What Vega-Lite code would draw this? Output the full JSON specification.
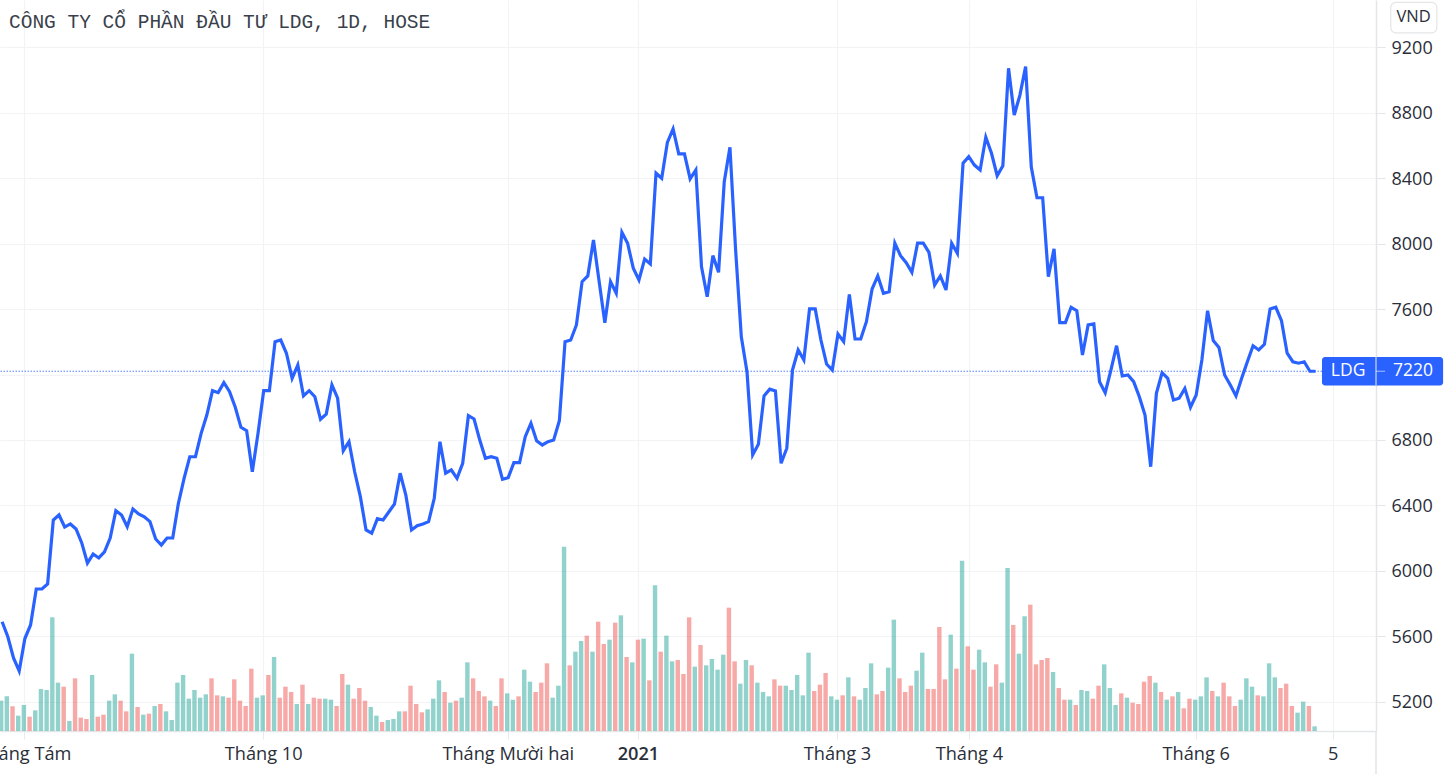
{"$schema":"https://vega.github.io/schema/vega-lite/v6.json","description":"LDG daily close and volume","width":1376,"height":731,"autosize":{"type":"none"},"padding":{"left":0,"top":0,"right":72,"bottom":43},"background":"#ffffff","title":{"text":"CÔNG TY CỔ PHẦN ĐẦU TƯ LDG, 1D, HOSE","anchor":"start","frame":"group","offset":-32,"dx":9,"font":"Liberation Mono","fontSize":19.5,"fontWeight":"normal","color":"#3a3f4c"},"config":{"view":{"stroke":null},"font":"Open Sans"},"datasets":{"sessions":[
{"i":0,"close":5688,"volume":91000,"dir":"up"},{"i":1,"close":5596,"volume":104000,"dir":"up"},{"i":2,"close":5466,"volume":74000,"dir":"down"},{"i":3,"close":5387,"volume":46000,"dir":"up"},{"i":4,"close":5585,"volume":78000,"dir":"up"},{"i":5,"close":5668,"volume":43000,"dir":"down"},{"i":6,"close":5888,"volume":62000,"dir":"up"},{"i":7,"close":5888,"volume":126000,"dir":"up"},{"i":8,"close":5919,"volume":123000,"dir":"up"},{"i":9,"close":6310,"volume":341000,"dir":"up"},
{"i":10,"close":6341,"volume":145000,"dir":"up"},{"i":11,"close":6267,"volume":133000,"dir":"down"},{"i":12,"close":6286,"volume":30000,"dir":"up"},{"i":13,"close":6255,"volume":158000,"dir":"down"},{"i":14,"close":6170,"volume":40000,"dir":"down"},{"i":15,"close":6047,"volume":36000,"dir":"down"},{"i":16,"close":6102,"volume":168000,"dir":"up"},{"i":17,"close":6078,"volume":43000,"dir":"down"},{"i":18,"close":6115,"volume":49000,"dir":"down"},{"i":19,"close":6200,"volume":91000,"dir":"up"},
{"i":20,"close":6367,"volume":110000,"dir":"up"},{"i":21,"close":6341,"volume":91000,"dir":"down"},{"i":22,"close":6269,"volume":59000,"dir":"down"},{"i":23,"close":6377,"volume":232000,"dir":"up"},{"i":24,"close":6347,"volume":72000,"dir":"down"},{"i":25,"close":6330,"volume":49000,"dir":"up"},{"i":26,"close":6300,"volume":52000,"dir":"down"},{"i":27,"close":6194,"volume":75000,"dir":"up"},{"i":28,"close":6157,"volume":81000,"dir":"down"},{"i":29,"close":6200,"volume":59000,"dir":"up"},
{"i":30,"close":6200,"volume":33000,"dir":"up"},{"i":31,"close":6412,"volume":145000,"dir":"up"},{"i":32,"close":6565,"volume":168000,"dir":"up"},{"i":33,"close":6697,"volume":97000,"dir":"up"},{"i":34,"close":6697,"volume":123000,"dir":"up"},{"i":35,"close":6840,"volume":100000,"dir":"up"},{"i":36,"close":6952,"volume":110000,"dir":"up"},{"i":37,"close":7101,"volume":158000,"dir":"down"},{"i":38,"close":7089,"volume":107000,"dir":"down"},{"i":39,"close":7150,"volume":104000,"dir":"up"},
{"i":40,"close":7095,"volume":100000,"dir":"down"},{"i":41,"close":7000,"volume":155000,"dir":"down"},{"i":42,"close":6877,"volume":91000,"dir":"down"},{"i":43,"close":6856,"volume":75000,"dir":"down"},{"i":44,"close":6605,"volume":187000,"dir":"down"},{"i":45,"close":6840,"volume":100000,"dir":"up"},{"i":46,"close":7101,"volume":107000,"dir":"up"},{"i":47,"close":7101,"volume":168000,"dir":"down"},{"i":48,"close":7401,"volume":222000,"dir":"up"},{"i":49,"close":7411,"volume":100000,"dir":"down"},
{"i":50,"close":7330,"volume":133000,"dir":"down"},{"i":51,"close":7177,"volume":117000,"dir":"down"},{"i":52,"close":7258,"volume":81000,"dir":"up"},{"i":53,"close":7069,"volume":139000,"dir":"down"},{"i":54,"close":7101,"volume":81000,"dir":"up"},{"i":55,"close":7064,"volume":100000,"dir":"down"},{"i":56,"close":6926,"volume":97000,"dir":"down"},{"i":57,"close":6958,"volume":97000,"dir":"up"},{"i":58,"close":7136,"volume":94000,"dir":"up"},{"i":59,"close":7055,"volume":75000,"dir":"down"},
{"i":60,"close":6734,"volume":171000,"dir":"down"},{"i":61,"close":6789,"volume":139000,"dir":"up"},{"i":62,"close":6605,"volume":97000,"dir":"down"},{"i":63,"close":6453,"volume":129000,"dir":"down"},{"i":64,"close":6249,"volume":91000,"dir":"down"},{"i":65,"close":6229,"volume":72000,"dir":"up"},{"i":66,"close":6318,"volume":46000,"dir":"up"},{"i":67,"close":6310,"volume":27000,"dir":"down"},{"i":68,"close":6359,"volume":33000,"dir":"up"},{"i":69,"close":6408,"volume":36000,"dir":"up"},
{"i":70,"close":6596,"volume":59000,"dir":"up"},{"i":71,"close":6463,"volume":59000,"dir":"down"},{"i":72,"close":6249,"volume":136000,"dir":"down"},{"i":73,"close":6275,"volume":81000,"dir":"down"},{"i":74,"close":6286,"volume":56000,"dir":"down"},{"i":75,"close":6300,"volume":65000,"dir":"up"},{"i":76,"close":6443,"volume":97000,"dir":"up"},{"i":77,"close":6789,"volume":152000,"dir":"up"},{"i":78,"close":6596,"volume":117000,"dir":"down"},{"i":79,"close":6616,"volume":85000,"dir":"up"},
{"i":80,"close":6565,"volume":91000,"dir":"down"},{"i":81,"close":6657,"volume":100000,"dir":"up"},{"i":82,"close":6948,"volume":206000,"dir":"up"},{"i":83,"close":6928,"volume":158000,"dir":"down"},{"i":84,"close":6799,"volume":120000,"dir":"down"},{"i":85,"close":6688,"volume":104000,"dir":"down"},{"i":86,"close":6697,"volume":91000,"dir":"up"},{"i":87,"close":6688,"volume":75000,"dir":"down"},{"i":88,"close":6559,"volume":158000,"dir":"down"},{"i":89,"close":6569,"volume":113000,"dir":"up"},
{"i":90,"close":6661,"volume":94000,"dir":"up"},{"i":91,"close":6661,"volume":104000,"dir":"down"},{"i":92,"close":6820,"volume":184000,"dir":"up"},{"i":93,"close":6902,"volume":148000,"dir":"up"},{"i":94,"close":6795,"volume":117000,"dir":"down"},{"i":95,"close":6769,"volume":145000,"dir":"down"},{"i":96,"close":6789,"volume":203000,"dir":"down"},{"i":97,"close":6799,"volume":100000,"dir":"up"},{"i":98,"close":6917,"volume":136000,"dir":"up"},{"i":99,"close":7401,"volume":553000,"dir":"up"},
{"i":100,"close":7411,"volume":197000,"dir":"down"},{"i":101,"close":7503,"volume":238000,"dir":"up"},{"i":102,"close":7768,"volume":270000,"dir":"up"},{"i":103,"close":7803,"volume":286000,"dir":"down"},{"i":104,"close":8023,"volume":238000,"dir":"up"},{"i":105,"close":7768,"volume":328000,"dir":"down"},{"i":106,"close":7517,"volume":261000,"dir":"down"},{"i":107,"close":7768,"volume":274000,"dir":"up"},{"i":108,"close":7697,"volume":325000,"dir":"down"},{"i":109,"close":8070,"volume":347000,"dir":"up"},
{"i":110,"close":8003,"volume":222000,"dir":"down"},{"i":111,"close":7850,"volume":206000,"dir":"up"},{"i":112,"close":7778,"volume":274000,"dir":"down"},{"i":113,"close":7906,"volume":277000,"dir":"up"},{"i":114,"close":7876,"volume":152000,"dir":"down"},{"i":115,"close":8431,"volume":437000,"dir":"up"},{"i":116,"close":8400,"volume":238000,"dir":"down"},{"i":117,"close":8620,"volume":286000,"dir":"up"},{"i":118,"close":8702,"volume":209000,"dir":"up"},{"i":119,"close":8549,"volume":213000,"dir":"down"},
{"i":120,"close":8549,"volume":171000,"dir":"down"},{"i":121,"close":8396,"volume":341000,"dir":"down"},{"i":122,"close":8451,"volume":193000,"dir":"up"},{"i":123,"close":7859,"volume":258000,"dir":"down"},{"i":124,"close":7676,"volume":197000,"dir":"up"},{"i":125,"close":7927,"volume":216000,"dir":"up"},{"i":126,"close":7825,"volume":184000,"dir":"up"},{"i":127,"close":8379,"volume":229000,"dir":"up"},{"i":128,"close":8590,"volume":370000,"dir":"down"},{"i":129,"close":7961,"volume":209000,"dir":"down"},
{"i":130,"close":7431,"volume":142000,"dir":"up"},{"i":131,"close":7217,"volume":213000,"dir":"up"},{"i":132,"close":6708,"volume":197000,"dir":"down"},{"i":133,"close":6773,"volume":145000,"dir":"up"},{"i":134,"close":7069,"volume":117000,"dir":"up"},{"i":135,"close":7110,"volume":104000,"dir":"up"},{"i":136,"close":7099,"volume":155000,"dir":"down"},{"i":137,"close":6657,"volume":136000,"dir":"down"},{"i":138,"close":6749,"volume":136000,"dir":"up"},{"i":139,"close":7227,"volume":123000,"dir":"up"},
{"i":140,"close":7350,"volume":168000,"dir":"up"},{"i":141,"close":7289,"volume":107000,"dir":"up"},{"i":142,"close":7601,"volume":235000,"dir":"up"},{"i":143,"close":7601,"volume":120000,"dir":"down"},{"i":144,"close":7411,"volume":139000,"dir":"down"},{"i":145,"close":7264,"volume":174000,"dir":"down"},{"i":146,"close":7227,"volume":104000,"dir":"up"},{"i":147,"close":7448,"volume":94000,"dir":"up"},{"i":148,"close":7401,"volume":107000,"dir":"down"},{"i":149,"close":7690,"volume":161000,"dir":"up"},
{"i":150,"close":7417,"volume":104000,"dir":"down"},{"i":151,"close":7417,"volume":94000,"dir":"up"},{"i":152,"close":7523,"volume":129000,"dir":"up"},{"i":153,"close":7723,"volume":203000,"dir":"up"},{"i":154,"close":7803,"volume":110000,"dir":"down"},{"i":155,"close":7697,"volume":120000,"dir":"down"},{"i":156,"close":7706,"volume":190000,"dir":"up"},{"i":157,"close":8003,"volume":334000,"dir":"up"},{"i":158,"close":7927,"volume":158000,"dir":"down"},{"i":159,"close":7884,"volume":117000,"dir":"down"},
{"i":160,"close":7825,"volume":136000,"dir":"down"},{"i":161,"close":8003,"volume":181000,"dir":"up"},{"i":162,"close":8003,"volume":235000,"dir":"up"},{"i":163,"close":7947,"volume":126000,"dir":"down"},{"i":164,"close":7747,"volume":126000,"dir":"down"},{"i":165,"close":7803,"volume":312000,"dir":"down"},{"i":166,"close":7717,"volume":155000,"dir":"down"},{"i":167,"close":8003,"volume":289000,"dir":"up"},{"i":168,"close":7941,"volume":187000,"dir":"down"},{"i":169,"close":8492,"volume":511000,"dir":"up"},
{"i":170,"close":8532,"volume":254000,"dir":"down"},{"i":171,"close":8481,"volume":184000,"dir":"down"},{"i":172,"close":8451,"volume":244000,"dir":"up"},{"i":173,"close":8651,"volume":206000,"dir":"up"},{"i":174,"close":8553,"volume":133000,"dir":"down"},{"i":175,"close":8416,"volume":200000,"dir":"down"},{"i":176,"close":8477,"volume":145000,"dir":"up"},{"i":177,"close":9073,"volume":489000,"dir":"up"},{"i":178,"close":8787,"volume":318000,"dir":"down"},{"i":179,"close":8909,"volume":232000,"dir":"up"},
{"i":180,"close":9083,"volume":344000,"dir":"up"},{"i":181,"close":8469,"volume":379000,"dir":"down"},{"i":182,"close":8281,"volume":200000,"dir":"down"},{"i":183,"close":8281,"volume":213000,"dir":"down"},{"i":184,"close":7798,"volume":219000,"dir":"down"},{"i":185,"close":7968,"volume":177000,"dir":"up"},{"i":186,"close":7517,"volume":129000,"dir":"down"},{"i":187,"close":7517,"volume":94000,"dir":"down"},{"i":188,"close":7611,"volume":94000,"dir":"up"},{"i":189,"close":7590,"volume":78000,"dir":"down"},
{"i":190,"close":7319,"volume":123000,"dir":"up"},{"i":191,"close":7503,"volume":120000,"dir":"up"},{"i":192,"close":7509,"volume":97000,"dir":"down"},{"i":193,"close":7156,"volume":136000,"dir":"down"},{"i":194,"close":7089,"volume":200000,"dir":"up"},{"i":195,"close":7227,"volume":129000,"dir":"up"},{"i":196,"close":7376,"volume":78000,"dir":"up"},{"i":197,"close":7191,"volume":113000,"dir":"down"},{"i":198,"close":7197,"volume":100000,"dir":"up"},{"i":199,"close":7156,"volume":85000,"dir":"down"},
{"i":200,"close":7064,"volume":81000,"dir":"down"},{"i":201,"close":6952,"volume":148000,"dir":"down"},{"i":202,"close":6636,"volume":165000,"dir":"down"},{"i":203,"close":7085,"volume":145000,"dir":"up"},{"i":204,"close":7211,"volume":117000,"dir":"down"},{"i":205,"close":7177,"volume":94000,"dir":"up"},{"i":206,"close":7044,"volume":104000,"dir":"down"},{"i":207,"close":7055,"volume":117000,"dir":"up"},{"i":208,"close":7115,"volume":68000,"dir":"down"},{"i":209,"close":7000,"volume":97000,"dir":"down"},
{"i":210,"close":7075,"volume":94000,"dir":"up"},{"i":211,"close":7289,"volume":104000,"dir":"up"},{"i":212,"close":7590,"volume":161000,"dir":"up"},{"i":213,"close":7407,"volume":120000,"dir":"down"},{"i":214,"close":7366,"volume":104000,"dir":"up"},{"i":215,"close":7197,"volume":145000,"dir":"down"},{"i":216,"close":7136,"volume":104000,"dir":"down"},{"i":217,"close":7069,"volume":75000,"dir":"down"},{"i":218,"close":7177,"volume":94000,"dir":"up"},{"i":219,"close":7278,"volume":158000,"dir":"up"},
{"i":220,"close":7376,"volume":133000,"dir":"up"},{"i":221,"close":7350,"volume":107000,"dir":"down"},{"i":222,"close":7385,"volume":104000,"dir":"up"},{"i":223,"close":7601,"volume":203000,"dir":"up"},{"i":224,"close":7611,"volume":161000,"dir":"up"},{"i":225,"close":7529,"volume":129000,"dir":"down"},{"i":226,"close":7330,"volume":142000,"dir":"down"},{"i":227,"close":7278,"volume":75000,"dir":"down"},{"i":228,"close":7269,"volume":55000,"dir":"up"},{"i":229,"close":7278,"volume":88000,"dir":"up"},
{"i":230,"close":7220,"volume":75000,"dir":"down"},{"i":231,"close":7220,"volume":14000,"dir":"up"}],
"last":[{"symbol":"LDG","price":7220}],"unit":[{"currency":"VND"}]},
"resolve":{"scale":{"y":"independent"}},
"layer":[
{"data":{"name":"sessions"},"mark":{"type":"bar","width":4.4,"opacity":0.5},"encoding":{"x":{"field":"i","type":"quantitative","scale":{"domain":[-0.2,241.8],"nice":false,"zero":false,"padding":0},"axis":{"title":null,"values":[4,46.1,89.1,112,147,170.2,210.1,234.2],"labelExpr":"datum.value==4?'Tháng Tám':datum.value==46.1?'Tháng 10':datum.value==89.1?'Tháng Mười hai':datum.value==112?'2021':datum.value==147?'Tháng 3':datum.value==170.2?'Tháng 4':datum.value==210.1?'Tháng 6':'5'","labelFont":"Open Sans","labelFontSize":18.2,"labelColor":"#2a2e39","labelFontWeight":{"condition":{"test":"datum.value==112","value":600},"value":"normal"},"labelOverlap":false,"labelBound":false,"labelFlush":false,"labelPadding":6,"tickSize":8,"tickColor":"#e9eaec","domainColor":"#e4e5e8","domainWidth":1.5,"gridColor":"#f2f3f5","gridWidth":1.2,"grid":true}},"y":{"field":"volume","type":"quantitative","scale":{"domain":[0,2193000],"nice":false},"axis":null},"color":{"field":"dir","type":"nominal","scale":{"domain":["up","down"],"range":["#26a69a","#ef5350"]},"legend":null}}},
{"layer":[
{"data":{"name":"last"},"mark":{"type":"rule","color":"#2962ff","strokeWidth":1,"strokeDash":[1.5,1.5],"opacity":0.8},"encoding":{"y":{"field":"price","type":"quantitative","scale":{"domain":[5019.6,9490.5],"nice":false,"zero":false},"axis":{"orient":"right","title":null,"values":[5200,5600,6000,6400,6800,7200,7600,8000,8400,8800,9200],"labelExpr":"datum.value==7200?'':datum.label","format":"d","labelFont":"Open Sans","labelFontSize":18,"labelColor":"#2a2e39","labelPadding":6,"labelOffset":1,"tickSize":9,"tickColor":"#e4e5e8","domainColor":"#e4e5e8","domainWidth":1.5,"grid":true,"gridColor":"#f2f3f5","gridWidth":1.2}}}},
{"data":{"name":"sessions"},"mark":{"type":"line","color":"#2962ff","strokeWidth":3.2,"strokeJoin":"miter","interpolate":"linear","xOffset":1},"encoding":{"x":{"field":"i","type":"quantitative"},"y":{"field":"close","type":"quantitative"}}},
{"data":{"name":"last"},"mark":{"type":"rule","color":"#e4e5e8","strokeWidth":1.5},"encoding":{"x":{"datum":241.8},"y":{"datum":5019.6},"y2":{"datum":4756}}},
{"data":{"name":"last"},"mark":{"type":"rect","color":"#2962ff","cornerRadius":3},"encoding":{"x":{"datum":232.3},"x2":{"datum":253.6},"y":{"datum":7307},"y2":{"datum":7133}}},
{"data":{"name":"last"},"mark":{"type":"rule","color":"#ffffff","strokeWidth":1,"opacity":0.9},"encoding":{"x":{"datum":241.8},"y":{"datum":7307},"y2":{"datum":7133}}},
{"data":{"name":"last"},"mark":{"type":"rule","color":"#ffffff","strokeWidth":1,"opacity":0.6},"encoding":{"x":{"datum":241.8},"x2":{"datum":243.4},"y":{"field":"price","type":"quantitative"}}},
{"data":{"name":"last"},"mark":{"type":"text","color":"#ffffff","font":"Open Sans","fontSize":17.5,"fontWeight":500,"align":"center","baseline":"middle"},"encoding":{"x":{"datum":236.9},"y":{"field":"price","type":"quantitative"},"text":{"field":"symbol"}}},
{"data":{"name":"last"},"mark":{"type":"text","color":"#ffffff","font":"Open Sans","fontSize":17.5,"fontWeight":500,"align":"center","baseline":"middle"},"encoding":{"x":{"datum":248.3},"y":{"field":"price","type":"quantitative"},"text":{"field":"price","type":"quantitative","format":"d"}}},
{"data":{"name":"unit"},"mark":{"type":"rect","fill":"#ffffff","stroke":"#e4e5e8","strokeWidth":1.2,"cornerRadius":5},"encoding":{"x":{"datum":244.4},"x2":{"datum":252.5},"y":{"datum":9476},"y2":{"datum":9290}}},
{"data":{"name":"unit"},"mark":{"type":"text","color":"#2a2e39","font":"Open Sans","fontSize":16.5,"align":"center","baseline":"middle"},"encoding":{"x":{"datum":248.4},"y":{"datum":9386},"text":{"field":"currency"}}}
]}
]}
